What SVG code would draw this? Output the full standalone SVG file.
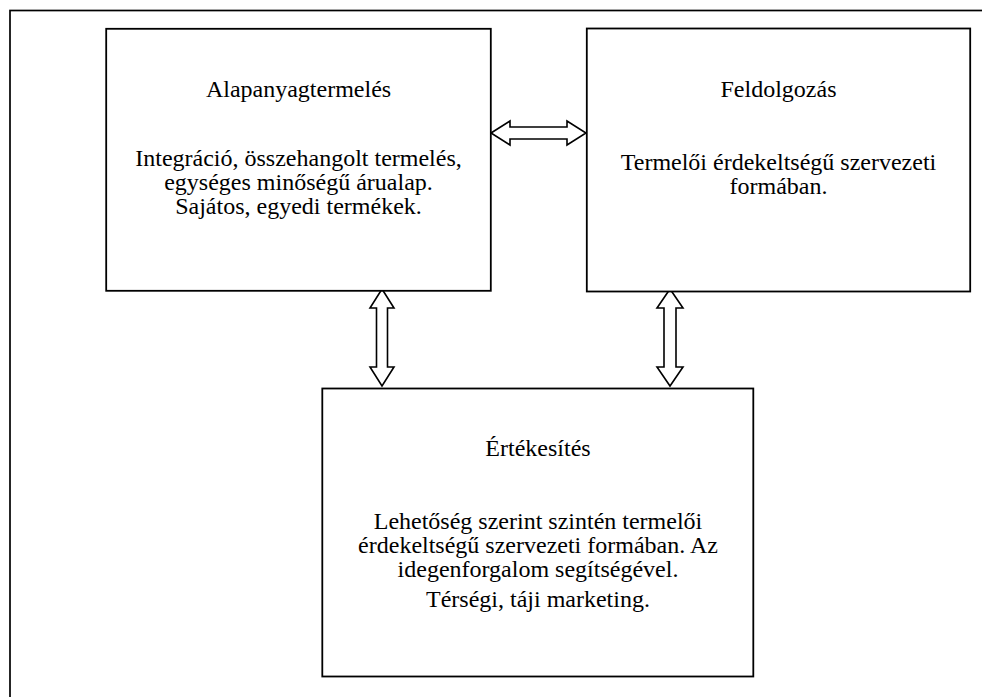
<svg xmlns="http://www.w3.org/2000/svg" width="982" height="697" viewBox="0 0 982 697">
<style>
.frame{fill:none;stroke:#000;stroke-width:1.7}
.box{fill:#fff;stroke:#000;stroke-width:1.8}
.arrow{fill:#fff;stroke:#000;stroke-width:1.6;stroke-linejoin:miter;stroke-miterlimit:10}
.t{font-family:'Liberation Serif','Times New Roman','DejaVu Serif',serif;font-size:24px;fill:#000;text-anchor:middle}
</style>
<rect fill="#fff" x="0" y="0" width="982" height="697"/>
<rect class="frame" x="10" y="10.5" width="1000" height="720"/>
<g id="connectors">
<polygon class="arrow" points="491,133 510,121 510,127 567,127 567,121 586,133 567,145 567,139 510,139 510,145"/>
<polygon class="arrow" points="382,289 394,308 387.5,308 387.5,367 394,367 382,386 370,367 376.5,367 376.5,308 370,308"/>
<polygon class="arrow" points="670,289 683,308 676,308 676,367 683,367 670,386 657,367 664,367 664,308 657,308"/>
</g>
<g id="alapanyagtermeles" class="t">
<rect class="box" x="106.2" y="28.8" width="384.6" height="262"/>
<text x="298.5" y="97">Alapanyagtermelés</text>
<text x="298.5" y="166">Integráció, összehangolt termelés,</text>
<text x="298.5" y="190">egységes minőségű árualap.</text>
<text x="298.5" y="214">Sajátos, egyedi termékek.</text>
</g>
<g id="feldolgozas" class="t">
<rect class="box" x="586.8" y="28.5" width="383.4" height="263"/>
<text x="778.5" y="97">Feldolgozás</text>
<text x="778.5" y="170">Termelői érdekeltségű szervezeti</text>
<text x="778.5" y="194">formában.</text>
</g>
<g id="ertekesites" class="t">
<rect class="box" x="322.3" y="388.5" width="431" height="288"/>
<text x="538" y="456">Értékesítés</text>
<text x="538" y="529">Lehetőség szerint szintén termelői</text>
<text x="538" y="553">érdekeltségű szervezeti formában. Az</text>
<text x="538" y="577">idegenforgalom segítségével.</text>
<text x="538" y="607">Térségi, táji marketing.</text>
</g>
</svg>
